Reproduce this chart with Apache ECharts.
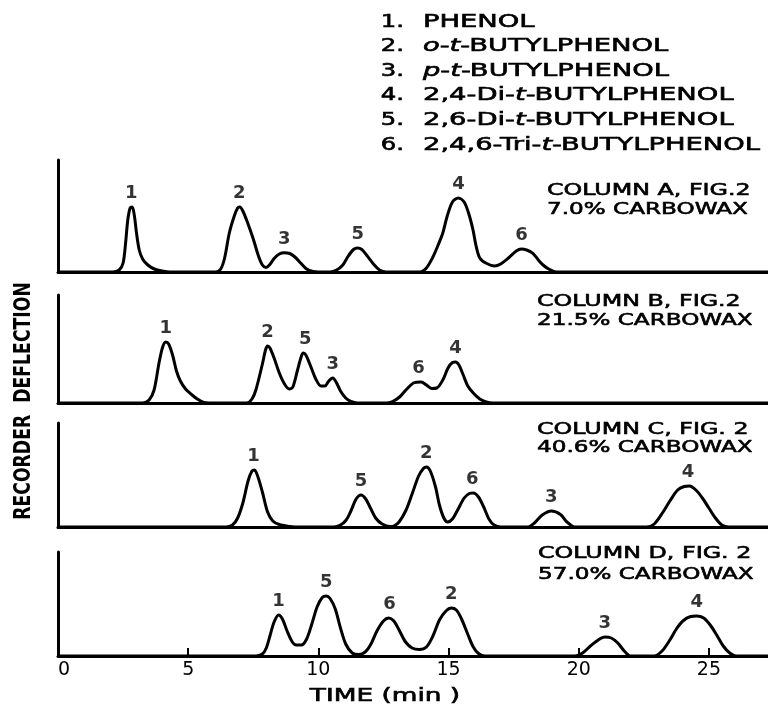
<!DOCTYPE html>
<html><head><meta charset="utf-8">
<script src="https://cdn.jsdelivr.net/npm/echarts@6/dist/echarts.min.js"></script>
<style>html,body{margin:0;padding:0;background:#fff}#c{width:768px;height:708px}</style>
</head><body><div id="c"></div>
<script>
// Time axis (min) tick labels
const timeTicks = [0, 5, 10, 15, 20, 25];

// Compound list
const compoundNums = ['1.', '2.', '3.', '4.', '5.', '6.'];
const compoundNames = [
  'PHENOL',
  '{it|o}-{it|t}-BUTYLPHENOL',
  '{it|p}-{it|t}-BUTYLPHENOL',
  '2,4-Di-{it|t}-BUTYLPHENOL',
  '2,6-Di-{it|t}-BUTYLPHENOL',
  '2,4,6-Tri-{it|t}-BUTYLPHENOL'
];

// Column titles
const columnTitles = ['COLUMN A, FIG.2', 'COLUMN B, FIG.2', 'COLUMN C, FIG. 2', 'COLUMN D, FIG. 2'];
const columnLoads = ['7.0% CARBOWAX', '21.5% CARBOWAX', '40.6% CARBOWAX', '57.0% CARBOWAX'];

// Recorder deflection traces [time (min), deflection]
const colA = [[0,0],[2.1,0],[2.35,2],[2.5,9],[2.6,30],[2.68,52],[2.77,64],[2.85,65],[2.93,57],[3.02,38],[3.12,22],[3.25,13],[3.45,7],[3.7,3],[4.0,1],[4.3,0],
  [6.05,0],[6.25,3],[6.4,14],[6.58,39],[6.77,56],[6.9,64],[6.98,65],[7.1,61],[7.3,48],[7.5,33],[7.7,16],[7.85,7],[7.99,4.5],[8.12,7],[8.31,13.7],[8.5,18],[8.69,19.3],[8.9,18.5],[9.1,15],[9.33,8.7],[9.55,3],[9.8,0.5],[10.0,0],
  [10.45,0],[10.7,2],[10.94,7],[11.15,16],[11.35,22.5],[11.51,24],[11.67,22.5],[11.85,17],[12.15,7],[12.35,2],[12.6,0],
  [13.9,0],[14.15,4],[14.4,15],[14.6,27],[14.78,39],[14.95,56],[15.15,70],[15.38,74],[15.6,70],[15.78,58],[15.94,42],[16.05,27],[16.2,14],[16.45,8.7],[16.77,6],[17.0,8],[17.3,14],[17.6,21],[17.8,23],[18.0,22],[18.24,18.7],[18.45,12],[18.63,7],[18.85,3],[19.14,0],[27.27,0]];
const colB = [[0,0],[3.25,0],[3.5,3],[3.69,13],[3.88,40],[4.02,56],[4.14,61],[4.25,59],[4.4,48],[4.55,32],[4.7,22],[4.9,14],[5.15,8],[5.35,4],[5.6,0.5],[5.8,0],
  [7.25,0],[7.45,4],[7.6,13],[7.86,40],[7.97,53],[8.05,57],[8.14,55],[8.3,45],[8.5,30],[8.7,19],[8.88,14],[9.02,16],[9.2,33],[9.35,47],[9.42,50],[9.52,48],[9.7,37],[9.9,24],[10.1,17],[10.25,17],[10.4,22],[10.55,25],[10.68,21],[10.85,12],[11.05,5],[11.25,1.5],[11.5,0],
  [12.6,0],[12.85,1.5],[13.12,6],[13.4,14],[13.65,20],[13.95,21],[14.15,18],[14.35,14.5],[14.55,15],[14.78,23],[14.98,35],[15.15,40.5],[15.27,41],[15.4,38],[15.55,29],[15.74,17],[15.95,10],[16.2,4],[16.45,1],[16.7,0],[27.27,0]];
const colC = [[0,0],[6.45,0],[6.7,2],[6.9,9],[7.1,24],[7.3,46],[7.45,56],[7.55,57],[7.68,50],[7.85,35],[8.05,15],[8.25,6],[8.5,2.5],[8.9,0.5],[9.1,0],
  [10.6,0],[10.85,2],[11.07,7],[11.25,16],[11.45,28],[11.64,32],[11.82,28],[12.0,19],[12.2,9],[12.45,3],[12.75,0.5],
  [12.9,1],[13.1,5],[13.37,17],[13.6,33],[13.85,51],[14.05,59],[14.15,60],[14.3,56],[14.5,40],[14.65,22],[14.82,9],[14.97,5],[15.15,8],[15.35,17],[15.6,29],[15.8,33.5],[15.95,34],[16.15,30],[16.35,20],[16.55,8],[16.75,2],[17.0,0],
  [18.05,0],[18.3,4],[18.6,12],[18.95,16],[19.3,12.5],[19.55,5],[19.85,0],
  [22.6,0],[22.9,3],[23.24,15],[23.5,26],[23.8,37],[24.05,40.5],[24.25,41],[24.5,37],[24.75,29],[25.0,19],[25.25,9],[25.5,2],[25.75,0],[27.27,0]];
const colD = [[0,0],[7.6,0],[7.85,2],[8.0,8],[8.15,21],[8.3,34],[8.47,41],[8.62,37],[8.8,25],[9.0,14],[9.15,11],[9.35,11],[9.55,17],[9.75,32],[9.95,49],[10.15,58.5],[10.3,60],[10.45,57.5],[10.65,47],[10.85,28],[11.05,12],[11.3,3],[11.55,1.5],
  [11.8,4],[12.0,11],[12.25,25],[12.5,35],[12.7,38],[12.9,35],[13.1,26],[13.35,14],[13.6,8],[13.88,6.5],[14.15,9],[14.4,20],[14.65,36],[14.9,45],[15.1,48],[15.3,46],[15.5,37],[15.75,21],[15.95,9],[16.15,2.5],[16.4,0],
  [19.85,0],[20.15,3],[20.45,10],[20.75,16],[21.0,19],[21.25,18],[21.5,13],[21.75,5],[22.0,0],
  [22.9,0],[23.2,5],[23.5,16],[23.75,27],[24.0,35],[24.3,39.5],[24.53,40],[24.8,38],[25.05,31],[25.3,21],[25.55,10],[25.8,3],[26.05,0],[27.27,0]];

// Peak identification labels [compound number, time, deflection]
const peaksA = [['1',2.81,65],['2',6.96,65],['3',8.69,19],['5',11.51,24],['4',15.38,74],['6',17.8,23]];
const peaksB = [['1',4.14,61],['2',8.05,57],['5',9.5,50],['3',10.55,25],['6',13.85,21],['4',15.27,41]];
const peaksC = [['1',7.51,57],['5',11.64,32],['2',14.14,60],['6',15.91,34],['3',18.95,16],['4',24.2,41]];
const peaksD = [['1',8.47,41],['5',10.3,60],['6',12.73,38],['2',15.1,48],['3',21.0,19],['4',24.53,40]];

const traces = [colA, colB, colC, colD];
const peaks = [peaksA, peaksB, peaksC, peaksD];

// layout
const FONT = 'DejaVu Sans';
const tMax = 27.27;
const panelTop = [160, 295, 423, 552];
const panelH = [112, 108, 104, 104];
const titleY = [[191, 210], [302, 321], [430, 448], [554, 575]];
const titleX = [547, 537, 537, 538];

const grids = [], xAxes = [], yAxes = [], series = [];
traces.forEach((tr, i) => {
  const last = i === traces.length - 1;
  grids.push({left: 58, right: 0, top: panelTop[i], height: panelH[i]});
  xAxes.push({
    type: 'value', gridIndex: i, min: timeTicks[0], max: tMax, interval: 5,
    axisLine: {show: true, lineStyle: {color: '#000', width: 3}},
    axisTick: {show: last, inside: true, length: 8, lineStyle: {color: '#000', width: 2}},
    axisLabel: {show: last, color: '#000', fontSize: 19, fontFamily: FONT, margin: 5,
      alignMinLabel: 'left', showMaxLabel: false,
      formatter: v => timeTicks.indexOf(v) >= 0 ? String(v) : ''},
    splitLine: {show: false}
  });
  yAxes.push({
    type: 'value', gridIndex: i, min: 0, max: panelH[i],
    axisLine: {show: true, lineStyle: {color: '#000', width: 3}},
    axisTick: {show: false}, axisLabel: {show: false}, splitLine: {show: false}
  });
  series.push({
    type: 'line', xAxisIndex: i, yAxisIndex: i, data: tr, smooth: 0.3,
    symbol: 'none', lineStyle: {color: '#000', width: 3, join: 'round'}, z: 3
  });
  series.push({
    type: 'scatter', xAxisIndex: i, yAxisIndex: i, symbolSize: 1,
    itemStyle: {color: 'rgba(0,0,0,0)'},
    data: peaks[i].map(p => ({name: p[0], value: [p[1], p[2]]})),
    label: {show: true, position: 'top', distance: 4, formatter: '{b}',
      color: '#000', fontSize: 18, fontWeight: 'bold', fontFamily: FONT}
  });
});

const graphic = [];
const ink = {fill: '#000', stroke: '#000', lineWidth: 0.6};
const rich = {it: {fontStyle: 'italic', fontSize: 18, fontFamily: FONT, fill: '#000', stroke: '#000', lineWidth: 0.6}};
compoundNames.forEach((n, k) => {
  const y = 22 + k * 24.6;
  graphic.push({type: 'text', x: 404, y: y, scaleX: 1.35,
    style: Object.assign({text: compoundNums[k], font: '18px "DejaVu Sans"', textAlign: 'right', textVerticalAlign: 'middle'}, ink)});
  graphic.push({type: 'text', x: 423, y: y, scaleX: 1.52,
    style: Object.assign({text: n, font: '18px "DejaVu Sans"', textAlign: 'left', textVerticalAlign: 'middle', rich: rich}, ink)});
});
columnTitles.forEach((t, i) => {
  graphic.push({type: 'text', x: titleX[i], y: titleY[i][0], scaleX: 1.44,
    style: Object.assign({text: t, font: '16.5px "DejaVu Sans"', textAlign: 'left', textVerticalAlign: 'middle'}, ink)});
  graphic.push({type: 'text', x: titleX[i], y: titleY[i][1], scaleX: 1.40,
    style: Object.assign({text: columnLoads[i], font: '16.5px "DejaVu Sans"', textAlign: 'left', textVerticalAlign: 'middle'}, ink)});
});
graphic.push({type: 'text', x: 24, y: 401, rotation: Math.PI / 2, scaleX: 0.75,
  style: {text: 'RECORDER  DEFLECTION', font: 'bold 23px "DejaVu Sans"', fill: '#000', textAlign: 'center', textVerticalAlign: 'middle'}});
graphic.push({type: 'text', x: 385, y: 697, scaleX: 1.55,
  style: Object.assign({text: 'TIME (min )', font: '17px "DejaVu Sans"', textAlign: 'center', textVerticalAlign: 'middle'}, ink)});

const chart = echarts.init(document.getElementById('c'), null, {renderer: 'canvas'});
chart.setOption({
  animation: false, backgroundColor: '#fff',
  grid: grids, xAxis: xAxes, yAxis: yAxes, series: series, graphic: graphic
});
</script></body></html>
